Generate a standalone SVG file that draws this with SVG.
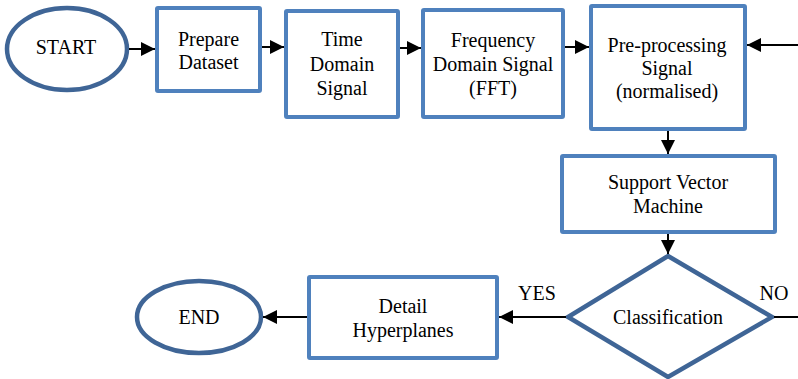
<svg xmlns="http://www.w3.org/2000/svg" width="798" height="379" viewBox="0 0 798 379" font-family="Liberation Serif, DejaVu Serif, serif">
  <style>
    .box { fill: #ffffff; stroke: #4f81bd; stroke-width: 4; }
    .term { fill: #ffffff; stroke: #3f6596; stroke-width: 4.5; }
    .lbl { font-size: 20px; fill: #000000; text-anchor: middle; }
    .conn { stroke: #000000; stroke-width: 2; fill: none; marker-end: url(#arrow); }
  </style>
  <defs>
    <marker id="arrow" viewBox="0 0 10 10" refX="10" refY="5" markerWidth="7" markerHeight="7" orient="auto" markerUnits="strokeWidth">
      <path d="M0,0 L10,5 L0,10 Z" fill="#000000"/>
    </marker>
  </defs>

  <g id="start">
    <ellipse class="term" cx="67" cy="49" rx="60" ry="41"/>
    <text class="lbl" x="66" y="54">START</text>
  </g>
  <g id="prepare">
    <rect class="box" x="157" y="8" width="103" height="83" rx="1"/>
    <text class="lbl" x="208.5" y="46">Prepare</text>
    <text class="lbl" x="208.5" y="69">Dataset</text>
  </g>
  <g id="time">
    <rect class="box" x="286" y="11" width="112" height="106" rx="1"/>
    <text class="lbl" x="342" y="46">Time</text>
    <text class="lbl" x="342" y="71">Domain</text>
    <text class="lbl" x="342" y="95">Signal</text>
  </g>
  <g id="frequency">
    <rect class="box" x="423" y="10" width="140" height="107" rx="1"/>
    <text class="lbl" x="493" y="47">Frequency</text>
    <text class="lbl" x="493" y="71">Domain Signal</text>
    <text class="lbl" x="493" y="95">(FFT)</text>
  </g>
  <g id="preprocess">
    <rect class="box" x="591" y="6" width="154" height="123" rx="1"/>
    <text class="lbl" x="667" y="52">Pre-processing</text>
    <text class="lbl" x="667" y="75">Signal</text>
    <text class="lbl" x="667" y="98">(normalised)</text>
  </g>
  <g id="svm">
    <rect class="box" x="562" y="156" width="213" height="76" rx="1"/>
    <text class="lbl" x="668" y="189">Support Vector</text>
    <text class="lbl" x="668" y="213">Machine</text>
  </g>
  <g id="classification">
    <polygon class="term" points="668,256 772,317 668,377 568,317"/>
    <text class="lbl" x="668" y="324">Classification</text>
  </g>
  <g id="detail">
    <rect class="box" x="309" y="277" width="188" height="81" rx="1"/>
    <text class="lbl" x="403" y="313">Detail</text>
    <text class="lbl" x="403" y="337">Hyperplanes</text>
  </g>
  <g id="end">
    <ellipse class="term" cx="199" cy="317" rx="62" ry="36"/>
    <text class="lbl" x="199" y="324">END</text>
  </g>

  <g id="connectors">
    <line class="conn" x1="129" y1="49" x2="155" y2="49"/>
    <line class="conn" x1="262" y1="47" x2="284" y2="47"/>
    <line class="conn" x1="400" y1="48" x2="421" y2="48"/>
    <line class="conn" x1="565" y1="47" x2="589" y2="47"/>
    <line class="conn" x1="798" y1="45" x2="747" y2="45"/>
    <line class="conn" x1="668" y1="131" x2="668" y2="154"/>
    <line class="conn" x1="668" y1="234" x2="668" y2="254"/>
    <line class="conn" x1="566" y1="317" x2="499" y2="317"/>
    <line stroke="#000000" stroke-width="2" x1="774" y1="317" x2="798" y2="317"/>
    <line class="conn" x1="307" y1="317" x2="263" y2="317"/>
    <text class="lbl" x="537" y="300">YES</text>
    <text class="lbl" x="774" y="300">NO</text>
  </g>
</svg>
